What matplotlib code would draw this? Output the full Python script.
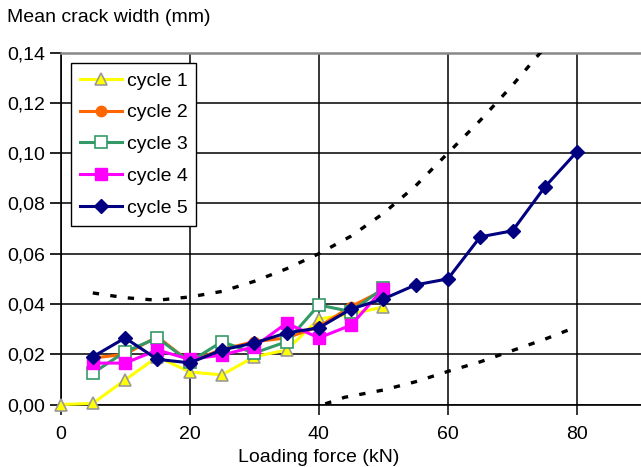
import numpy as np
import matplotlib.pyplot as plt
from matplotlib.ticker import FuncFormatter

plt.rcParams['font.family'] = ['Liberation Sans', 'DejaVu Sans']

# loading force steps (kN)
force_c1 = [0, 5, 10, 15, 20, 25, 30, 35, 40, 45, 50]
force_c24 = [5, 10, 15, 20, 25, 30, 35, 40, 45, 50]
force_c5 = [5, 10, 15, 20, 25, 30, 35, 40, 45, 50, 55, 60, 65, 70, 75, 80]

# mean crack width (mm) per cycle
cycle1 = [0.0, 0.0005, 0.0098, 0.019, 0.013, 0.0118, 0.019, 0.0217, 0.034, 0.036, 0.0388]
cycle2 = [0.0185, 0.020, 0.027, 0.017, 0.022, 0.025, 0.0265, 0.031, 0.039, 0.0455]
cycle3 = [0.0125, 0.021, 0.0265, 0.017, 0.025, 0.0205, 0.025, 0.0396, 0.037, 0.0463]
cycle4 = [0.0165, 0.0165, 0.0217, 0.018, 0.0197, 0.023, 0.0324, 0.0265, 0.0316, 0.046]
cycle5 = [0.019, 0.0265, 0.018, 0.0166, 0.0217, 0.0245, 0.0285, 0.0305, 0.038, 0.042,
          0.0476, 0.050, 0.0667, 0.0691, 0.0865, 0.1006]

# dashed envelope curves
upper_x = [5, 10, 15, 20, 25, 30, 35, 40, 45, 50, 55, 60, 65, 70, 75]
upper_y = [0.0444, 0.0425, 0.0415, 0.0428, 0.045, 0.049, 0.054, 0.060, 0.067, 0.076,
           0.087, 0.100, 0.113, 0.127, 0.142]
lower_x = [41, 44, 50, 55, 60, 65, 70, 75, 80]
lower_y = [0.0003, 0.0029, 0.0058, 0.0091, 0.0132, 0.017, 0.0215, 0.026, 0.031]

W, H = 641, 467
fig = plt.figure(figsize=(W / 100, H / 100), dpi=100)
ax = fig.add_axes([60.5 / W, 1 - 404.6 / H, (W - 60.5) / W, (404.6 - 52.5) / H])

dash = (0, (1.9, 3.4))
ax.plot(upper_x, upper_y, color='black', lw=2.4, linestyle=dash, zorder=3)
ax.plot(lower_x, lower_y, color='black', lw=2.4, linestyle=dash, zorder=3)

lw = 2.2
ax.plot(force_c1, cycle1, color='#FFFF00', lw=lw, marker='^', ms=9,
        mfc='#FFFF00', mec='#999999', mew=1.2, label='cycle 1', zorder=4, clip_on=False)
ax.plot(force_c24, cycle2, color='#FF6600', lw=lw, marker='o', ms=7.5,
        mfc='#FF6600', mec='#FF6600', label='cycle 2', zorder=5)
ax.plot(force_c24, cycle3, color='#339966', lw=lw, marker='s', ms=8,
        mfc='white', mec='#339966', mew=1.2, label='cycle 3', zorder=6)
ax.plot(force_c24, cycle4, color='#FF00FF', lw=lw, marker='s', ms=8.5,
        mfc='#FF00FF', mec='#FF00FF', label='cycle 4', zorder=7)
ax.plot(force_c5, cycle5, color='#000080', lw=lw, marker='D', ms=7,
        mfc='#000080', mec='#000080', label='cycle 5', zorder=8)

ax.set_xlim(0, 89.9)
ax.set_ylim(0, 0.14)
ax.set_xticks([0, 20, 40, 60, 80])
ax.set_yticks(np.arange(0, 0.141, 0.02))
ax.yaxis.set_major_formatter(FuncFormatter(lambda v, p: f'{v:.2f}'.replace('.', ',')))

ax.set_axisbelow(True)
ax.grid(True, color='black', lw=1.1)
ax.spines['right'].set_visible(False)
ax.spines['top'].set_color('#888888')
ax.spines['top'].set_linewidth(1.8)
ax.spines['left'].set_linewidth(1.2)
ax.spines['bottom'].set_linewidth(1.2)
ax.tick_params(axis='y', direction='out', length=8, width=1.2, labelsize=14, pad=3)
ax.tick_params(axis='x', direction='out', length=7, width=1.1, labelsize=14, pad=8.5)

leg = ax.legend(loc='upper left', fontsize=14, handlelength=2.15, handletextpad=0.25,
                borderaxespad=0.55, labelspacing=0.73, fancybox=False, framealpha=1,
                edgecolor='black', borderpad=0.45)
leg.get_frame().set_linewidth(1.0)

fig.text(7 / W, 1 - 18 / H, 'Mean crack width (mm)', fontsize=14, va='center', ha='left')
fig.text(318.5 / W, 1 - 457 / H, 'Loading force (kN)', fontsize=14, va='center', ha='center')

fig.savefig('out.png', dpi=100)
